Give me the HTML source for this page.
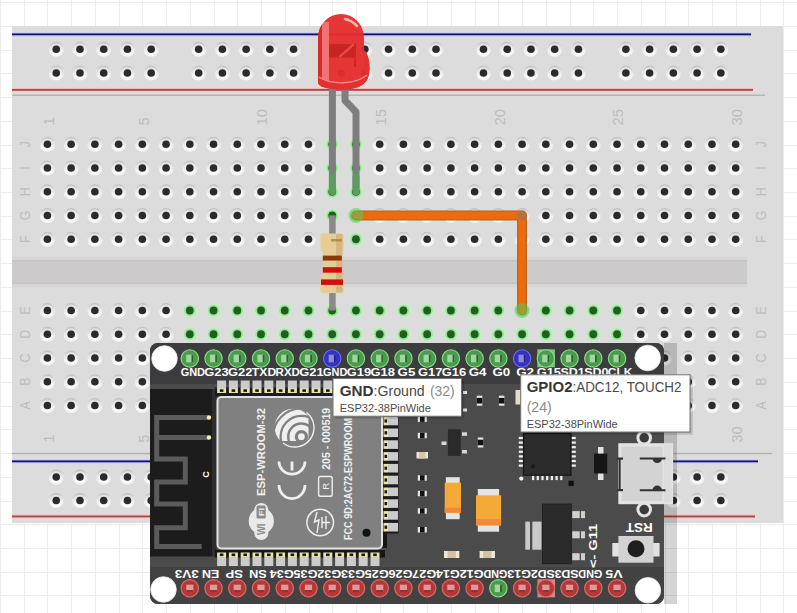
<!DOCTYPE html>
<html><head><meta charset="utf-8"><style>
html,body{margin:0;padding:0;background:#fff;overflow:hidden}
svg{display:block}
text{font-family:"Liberation Sans",sans-serif}
</style></head><body>
<svg width="797" height="613" viewBox="0 0 797 613">

<defs>
<linearGradient id="hg" x1="0" y1="0" x2="0" y2="1">
 <stop offset="0" stop-color="#c0c0c0"/>
 <stop offset="0.4" stop-color="#e2e2e2"/>
 <stop offset="0.75" stop-color="#f7f7f7"/>
 <stop offset="1" stop-color="#f4f4f4"/>
</linearGradient>
<linearGradient id="hg2" x1="0" y1="0" x2="0" y2="1">
 <stop offset="0" stop-color="#dedede"/>
 <stop offset="0.5" stop-color="#eeeeee"/>
 <stop offset="1" stop-color="#fdfdfd"/>
</linearGradient>
<g id="h"><circle r="7.5" fill="url(#hg)"/><circle r="6" fill="url(#hg2)"/><circle r="3.8" fill="#2b2b2b"/></g>
<g id="hgr"><circle r="7.3" fill="#c4eec4"/><circle r="5.7" fill="#9fe29f"/><circle r="3.9" fill="#1f601f"/></g>
<g id="pg"><circle r="8.7" fill="#4a9c4d" stroke="#8edc8e" stroke-width="1.1"/><rect x="-3.6" y="-3.8" width="7.2" height="7.6" fill="#9fd6a0"/><rect x="1.7" y="-3.8" width="1.9" height="7.6" fill="#2c642c"/></g>
<g id="pb"><circle r="8.7" fill="#3333c0" stroke="#6e6eff" stroke-width="1.1"/><rect x="-3.6" y="-3.8" width="7.2" height="7.6" fill="#8a8ae0"/><rect x="1.7" y="-3.8" width="1.9" height="7.6" fill="#20207e"/></g>
<g id="pr"><circle r="8.7" fill="#b73737" stroke="#dc6e6e" stroke-width="1.1"/><rect x="-3.6" y="-3.6" width="7.2" height="7.2" fill="#de9a9a"/><rect x="-3.6" y="1.8" width="7.2" height="1.8" fill="#8a2a2a"/></g>
</defs>
<rect width="797" height="613" fill="#fff"/>
<g stroke="#ececec" stroke-width="1"><line x1="0.5" y1="0" x2="0.5" y2="613"/><line x1="24.5" y1="0" x2="24.5" y2="613"/><line x1="47.5" y1="0" x2="47.5" y2="613"/><line x1="71.5" y1="0" x2="71.5" y2="613"/><line x1="95.5" y1="0" x2="95.5" y2="613"/><line x1="119.5" y1="0" x2="119.5" y2="613"/><line x1="142.5" y1="0" x2="142.5" y2="613"/><line x1="166.5" y1="0" x2="166.5" y2="613"/><line x1="190.5" y1="0" x2="190.5" y2="613"/><line x1="214.5" y1="0" x2="214.5" y2="613"/><line x1="237.5" y1="0" x2="237.5" y2="613"/><line x1="261.5" y1="0" x2="261.5" y2="613"/><line x1="285.5" y1="0" x2="285.5" y2="613"/><line x1="309.5" y1="0" x2="309.5" y2="613"/><line x1="332.5" y1="0" x2="332.5" y2="613"/><line x1="356.5" y1="0" x2="356.5" y2="613"/><line x1="380.5" y1="0" x2="380.5" y2="613"/><line x1="403.5" y1="0" x2="403.5" y2="613"/><line x1="427.5" y1="0" x2="427.5" y2="613"/><line x1="451.5" y1="0" x2="451.5" y2="613"/><line x1="475.5" y1="0" x2="475.5" y2="613"/><line x1="498.5" y1="0" x2="498.5" y2="613"/><line x1="522.5" y1="0" x2="522.5" y2="613"/><line x1="546.5" y1="0" x2="546.5" y2="613"/><line x1="570.5" y1="0" x2="570.5" y2="613"/><line x1="593.5" y1="0" x2="593.5" y2="613"/><line x1="617.5" y1="0" x2="617.5" y2="613"/><line x1="641.5" y1="0" x2="641.5" y2="613"/><line x1="665.5" y1="0" x2="665.5" y2="613"/><line x1="688.5" y1="0" x2="688.5" y2="613"/><line x1="712.5" y1="0" x2="712.5" y2="613"/><line x1="736.5" y1="0" x2="736.5" y2="613"/><line x1="760.5" y1="0" x2="760.5" y2="613"/><line x1="783.5" y1="0" x2="783.5" y2="613"/><line x1="0" y1="2.5" x2="797" y2="2.5"/><line x1="0" y1="26.5" x2="797" y2="26.5"/><line x1="0" y1="50.5" x2="797" y2="50.5"/><line x1="0" y1="73.5" x2="797" y2="73.5"/><line x1="0" y1="97.5" x2="797" y2="97.5"/><line x1="0" y1="121.5" x2="797" y2="121.5"/><line x1="0" y1="145.5" x2="797" y2="145.5"/><line x1="0" y1="168.5" x2="797" y2="168.5"/><line x1="0" y1="192.5" x2="797" y2="192.5"/><line x1="0" y1="216.5" x2="797" y2="216.5"/><line x1="0" y1="239.5" x2="797" y2="239.5"/><line x1="0" y1="263.5" x2="797" y2="263.5"/><line x1="0" y1="287.5" x2="797" y2="287.5"/><line x1="0" y1="311.5" x2="797" y2="311.5"/><line x1="0" y1="334.5" x2="797" y2="334.5"/><line x1="0" y1="358.5" x2="797" y2="358.5"/><line x1="0" y1="382.5" x2="797" y2="382.5"/><line x1="0" y1="406.5" x2="797" y2="406.5"/><line x1="0" y1="429.5" x2="797" y2="429.5"/><line x1="0" y1="453.5" x2="797" y2="453.5"/><line x1="0" y1="477.5" x2="797" y2="477.5"/><line x1="0" y1="501.5" x2="797" y2="501.5"/><line x1="0" y1="524.5" x2="797" y2="524.5"/><line x1="0" y1="548.5" x2="797" y2="548.5"/><line x1="0" y1="572.5" x2="797" y2="572.5"/><line x1="0" y1="595.5" x2="797" y2="595.5"/></g>
<rect x="12" y="26" width="771" height="497" fill="#dcdcdc"/>
<rect x="12" y="32" width="739" height="5" fill="#cfd1f7"/>
<rect x="12" y="33.4" width="739" height="1.9" fill="#151570"/>
<rect x="12" y="87.8" width="741" height="4" fill="#fcc6c6"/>
<rect x="12" y="88.9" width="741" height="1.9" fill="#a84a4a"/>
<rect x="12" y="94.6" width="753" height="1.3" fill="#b2aeac"/>
<rect x="12" y="256.5" width="735" height="31" fill="#d6d6d6"/>
<rect x="12" y="260" width="735" height="24" fill="#cdcaca"/>
<rect x="12" y="260" width="735" height="1.6" fill="#c5c3c3"/><rect x="12" y="282.4" width="735" height="1.6" fill="#c5c3c3"/>
<rect x="12" y="452.9" width="760" height="1.3" fill="#b2aeac"/>
<rect x="12" y="459" width="746" height="5" fill="#cfd1f7"/>
<rect x="12" y="460.4" width="746" height="1.9" fill="#151570"/>
<rect x="12" y="514.4" width="743" height="4" fill="#fcc6c6"/>
<rect x="12" y="515.5" width="743" height="1.9" fill="#a84a4a"/>
<g><use href="#h" x="56.25" y="49.3"/><use href="#h" x="56.25" y="73.0"/><use href="#h" x="56.25" y="477.0"/><use href="#h" x="56.25" y="500.5"/><use href="#h" x="79.98" y="49.3"/><use href="#h" x="79.98" y="73.0"/><use href="#h" x="79.98" y="477.0"/><use href="#h" x="79.98" y="500.5"/><use href="#h" x="103.72" y="49.3"/><use href="#h" x="103.72" y="73.0"/><use href="#h" x="103.72" y="477.0"/><use href="#h" x="103.72" y="500.5"/><use href="#h" x="127.45" y="49.3"/><use href="#h" x="127.45" y="73.0"/><use href="#h" x="127.45" y="477.0"/><use href="#h" x="127.45" y="500.5"/><use href="#h" x="151.19" y="49.3"/><use href="#h" x="151.19" y="73.0"/><use href="#h" x="151.19" y="477.0"/><use href="#h" x="151.19" y="500.5"/><use href="#h" x="198.66" y="49.3"/><use href="#h" x="198.66" y="73.0"/><use href="#h" x="198.66" y="477.0"/><use href="#h" x="198.66" y="500.5"/><use href="#h" x="222.39" y="49.3"/><use href="#h" x="222.39" y="73.0"/><use href="#h" x="222.39" y="477.0"/><use href="#h" x="222.39" y="500.5"/><use href="#h" x="246.13" y="49.3"/><use href="#h" x="246.13" y="73.0"/><use href="#h" x="246.13" y="477.0"/><use href="#h" x="246.13" y="500.5"/><use href="#h" x="269.87" y="49.3"/><use href="#h" x="269.87" y="73.0"/><use href="#h" x="269.87" y="477.0"/><use href="#h" x="269.87" y="500.5"/><use href="#h" x="293.60" y="49.3"/><use href="#h" x="293.60" y="73.0"/><use href="#h" x="293.60" y="477.0"/><use href="#h" x="293.60" y="500.5"/><use href="#h" x="341.07" y="49.3"/><use href="#h" x="341.07" y="73.0"/><use href="#h" x="341.07" y="477.0"/><use href="#h" x="341.07" y="500.5"/><use href="#h" x="364.81" y="49.3"/><use href="#h" x="364.81" y="73.0"/><use href="#h" x="364.81" y="477.0"/><use href="#h" x="364.81" y="500.5"/><use href="#h" x="388.54" y="49.3"/><use href="#h" x="388.54" y="73.0"/><use href="#h" x="388.54" y="477.0"/><use href="#h" x="388.54" y="500.5"/><use href="#h" x="412.27" y="49.3"/><use href="#h" x="412.27" y="73.0"/><use href="#h" x="412.27" y="477.0"/><use href="#h" x="412.27" y="500.5"/><use href="#h" x="436.01" y="49.3"/><use href="#h" x="436.01" y="73.0"/><use href="#h" x="436.01" y="477.0"/><use href="#h" x="436.01" y="500.5"/><use href="#h" x="483.48" y="49.3"/><use href="#h" x="483.48" y="73.0"/><use href="#h" x="483.48" y="477.0"/><use href="#h" x="483.48" y="500.5"/><use href="#h" x="507.21" y="49.3"/><use href="#h" x="507.21" y="73.0"/><use href="#h" x="507.21" y="477.0"/><use href="#h" x="507.21" y="500.5"/><use href="#h" x="530.95" y="49.3"/><use href="#h" x="530.95" y="73.0"/><use href="#h" x="530.95" y="477.0"/><use href="#h" x="530.95" y="500.5"/><use href="#h" x="554.68" y="49.3"/><use href="#h" x="554.68" y="73.0"/><use href="#h" x="554.68" y="477.0"/><use href="#h" x="554.68" y="500.5"/><use href="#h" x="578.42" y="49.3"/><use href="#h" x="578.42" y="73.0"/><use href="#h" x="578.42" y="477.0"/><use href="#h" x="578.42" y="500.5"/><use href="#h" x="625.89" y="49.3"/><use href="#h" x="625.89" y="73.0"/><use href="#h" x="625.89" y="477.0"/><use href="#h" x="625.89" y="500.5"/><use href="#h" x="649.62" y="49.3"/><use href="#h" x="649.62" y="73.0"/><use href="#h" x="649.62" y="477.0"/><use href="#h" x="649.62" y="500.5"/><use href="#h" x="673.36" y="49.3"/><use href="#h" x="673.36" y="73.0"/><use href="#h" x="673.36" y="477.0"/><use href="#h" x="673.36" y="500.5"/><use href="#h" x="697.10" y="49.3"/><use href="#h" x="697.10" y="73.0"/><use href="#h" x="697.10" y="477.0"/><use href="#h" x="697.10" y="500.5"/><use href="#h" x="720.83" y="49.3"/><use href="#h" x="720.83" y="73.0"/><use href="#h" x="720.83" y="477.0"/><use href="#h" x="720.83" y="500.5"/><use href="#h" x="47.40" y="144.30"/><use href="#h" x="47.40" y="168.04"/><use href="#h" x="47.40" y="191.77"/><use href="#h" x="47.40" y="215.50"/><use href="#h" x="47.40" y="239.24"/><use href="#h" x="47.40" y="310.50"/><use href="#h" x="47.40" y="334.24"/><use href="#h" x="47.40" y="357.97"/><use href="#h" x="47.40" y="381.70"/><use href="#h" x="47.40" y="405.44"/><use href="#h" x="71.13" y="144.30"/><use href="#h" x="71.13" y="168.04"/><use href="#h" x="71.13" y="191.77"/><use href="#h" x="71.13" y="215.50"/><use href="#h" x="71.13" y="239.24"/><use href="#h" x="71.13" y="310.50"/><use href="#h" x="71.13" y="334.24"/><use href="#h" x="71.13" y="357.97"/><use href="#h" x="71.13" y="381.70"/><use href="#h" x="71.13" y="405.44"/><use href="#h" x="94.87" y="144.30"/><use href="#h" x="94.87" y="168.04"/><use href="#h" x="94.87" y="191.77"/><use href="#h" x="94.87" y="215.50"/><use href="#h" x="94.87" y="239.24"/><use href="#h" x="94.87" y="310.50"/><use href="#h" x="94.87" y="334.24"/><use href="#h" x="94.87" y="357.97"/><use href="#h" x="94.87" y="381.70"/><use href="#h" x="94.87" y="405.44"/><use href="#h" x="118.60" y="144.30"/><use href="#h" x="118.60" y="168.04"/><use href="#h" x="118.60" y="191.77"/><use href="#h" x="118.60" y="215.50"/><use href="#h" x="118.60" y="239.24"/><use href="#h" x="118.60" y="310.50"/><use href="#h" x="118.60" y="334.24"/><use href="#h" x="118.60" y="357.97"/><use href="#h" x="118.60" y="381.70"/><use href="#h" x="118.60" y="405.44"/><use href="#h" x="142.34" y="144.30"/><use href="#h" x="142.34" y="168.04"/><use href="#h" x="142.34" y="191.77"/><use href="#h" x="142.34" y="215.50"/><use href="#h" x="142.34" y="239.24"/><use href="#h" x="142.34" y="310.50"/><use href="#h" x="142.34" y="334.24"/><use href="#h" x="142.34" y="357.97"/><use href="#h" x="142.34" y="381.70"/><use href="#h" x="142.34" y="405.44"/><use href="#h" x="166.07" y="144.30"/><use href="#h" x="166.07" y="168.04"/><use href="#h" x="166.07" y="191.77"/><use href="#h" x="166.07" y="215.50"/><use href="#h" x="166.07" y="239.24"/><use href="#h" x="166.07" y="310.50"/><use href="#h" x="166.07" y="334.24"/><use href="#h" x="166.07" y="357.97"/><use href="#h" x="166.07" y="381.70"/><use href="#h" x="166.07" y="405.44"/><use href="#h" x="189.81" y="144.30"/><use href="#h" x="189.81" y="168.04"/><use href="#h" x="189.81" y="191.77"/><use href="#h" x="189.81" y="215.50"/><use href="#h" x="189.81" y="239.24"/><use href="#hgr" x="189.81" y="310.50"/><use href="#hgr" x="189.81" y="334.24"/><use href="#h" x="189.81" y="357.97"/><use href="#h" x="189.81" y="381.70"/><use href="#h" x="189.81" y="405.44"/><use href="#h" x="213.54" y="144.30"/><use href="#h" x="213.54" y="168.04"/><use href="#h" x="213.54" y="191.77"/><use href="#h" x="213.54" y="215.50"/><use href="#h" x="213.54" y="239.24"/><use href="#hgr" x="213.54" y="310.50"/><use href="#hgr" x="213.54" y="334.24"/><use href="#h" x="213.54" y="357.97"/><use href="#h" x="213.54" y="381.70"/><use href="#h" x="213.54" y="405.44"/><use href="#h" x="237.28" y="144.30"/><use href="#h" x="237.28" y="168.04"/><use href="#h" x="237.28" y="191.77"/><use href="#h" x="237.28" y="215.50"/><use href="#h" x="237.28" y="239.24"/><use href="#hgr" x="237.28" y="310.50"/><use href="#hgr" x="237.28" y="334.24"/><use href="#h" x="237.28" y="357.97"/><use href="#h" x="237.28" y="381.70"/><use href="#h" x="237.28" y="405.44"/><use href="#h" x="261.01" y="144.30"/><use href="#h" x="261.01" y="168.04"/><use href="#h" x="261.01" y="191.77"/><use href="#h" x="261.01" y="215.50"/><use href="#h" x="261.01" y="239.24"/><use href="#hgr" x="261.01" y="310.50"/><use href="#hgr" x="261.01" y="334.24"/><use href="#h" x="261.01" y="357.97"/><use href="#h" x="261.01" y="381.70"/><use href="#h" x="261.01" y="405.44"/><use href="#h" x="284.75" y="144.30"/><use href="#h" x="284.75" y="168.04"/><use href="#h" x="284.75" y="191.77"/><use href="#h" x="284.75" y="215.50"/><use href="#h" x="284.75" y="239.24"/><use href="#hgr" x="284.75" y="310.50"/><use href="#hgr" x="284.75" y="334.24"/><use href="#h" x="284.75" y="357.97"/><use href="#h" x="284.75" y="381.70"/><use href="#h" x="284.75" y="405.44"/><use href="#h" x="308.48" y="144.30"/><use href="#h" x="308.48" y="168.04"/><use href="#h" x="308.48" y="191.77"/><use href="#h" x="308.48" y="215.50"/><use href="#h" x="308.48" y="239.24"/><use href="#hgr" x="308.48" y="310.50"/><use href="#hgr" x="308.48" y="334.24"/><use href="#h" x="308.48" y="357.97"/><use href="#h" x="308.48" y="381.70"/><use href="#h" x="308.48" y="405.44"/><use href="#hgr" x="332.22" y="144.30"/><use href="#hgr" x="332.22" y="168.04"/><use href="#hgr" x="332.22" y="191.77"/><use href="#hgr" x="332.22" y="215.50"/><use href="#hgr" x="332.22" y="239.24"/><use href="#hgr" x="332.22" y="310.50"/><use href="#hgr" x="332.22" y="334.24"/><use href="#h" x="332.22" y="357.97"/><use href="#h" x="332.22" y="381.70"/><use href="#h" x="332.22" y="405.44"/><use href="#hgr" x="355.95" y="144.30"/><use href="#hgr" x="355.95" y="168.04"/><use href="#hgr" x="355.95" y="191.77"/><use href="#hgr" x="355.95" y="215.50"/><use href="#hgr" x="355.95" y="239.24"/><use href="#hgr" x="355.95" y="310.50"/><use href="#hgr" x="355.95" y="334.24"/><use href="#h" x="355.95" y="357.97"/><use href="#h" x="355.95" y="381.70"/><use href="#h" x="355.95" y="405.44"/><use href="#h" x="379.69" y="144.30"/><use href="#h" x="379.69" y="168.04"/><use href="#h" x="379.69" y="191.77"/><use href="#h" x="379.69" y="215.50"/><use href="#h" x="379.69" y="239.24"/><use href="#hgr" x="379.69" y="310.50"/><use href="#hgr" x="379.69" y="334.24"/><use href="#h" x="379.69" y="357.97"/><use href="#h" x="379.69" y="381.70"/><use href="#h" x="379.69" y="405.44"/><use href="#h" x="403.42" y="144.30"/><use href="#h" x="403.42" y="168.04"/><use href="#h" x="403.42" y="191.77"/><use href="#h" x="403.42" y="215.50"/><use href="#h" x="403.42" y="239.24"/><use href="#hgr" x="403.42" y="310.50"/><use href="#hgr" x="403.42" y="334.24"/><use href="#h" x="403.42" y="357.97"/><use href="#h" x="403.42" y="381.70"/><use href="#h" x="403.42" y="405.44"/><use href="#h" x="427.16" y="144.30"/><use href="#h" x="427.16" y="168.04"/><use href="#h" x="427.16" y="191.77"/><use href="#h" x="427.16" y="215.50"/><use href="#h" x="427.16" y="239.24"/><use href="#hgr" x="427.16" y="310.50"/><use href="#hgr" x="427.16" y="334.24"/><use href="#h" x="427.16" y="357.97"/><use href="#h" x="427.16" y="381.70"/><use href="#h" x="427.16" y="405.44"/><use href="#h" x="450.89" y="144.30"/><use href="#h" x="450.89" y="168.04"/><use href="#h" x="450.89" y="191.77"/><use href="#h" x="450.89" y="215.50"/><use href="#h" x="450.89" y="239.24"/><use href="#hgr" x="450.89" y="310.50"/><use href="#hgr" x="450.89" y="334.24"/><use href="#h" x="450.89" y="357.97"/><use href="#h" x="450.89" y="381.70"/><use href="#h" x="450.89" y="405.44"/><use href="#h" x="474.63" y="144.30"/><use href="#h" x="474.63" y="168.04"/><use href="#h" x="474.63" y="191.77"/><use href="#h" x="474.63" y="215.50"/><use href="#h" x="474.63" y="239.24"/><use href="#hgr" x="474.63" y="310.50"/><use href="#hgr" x="474.63" y="334.24"/><use href="#h" x="474.63" y="357.97"/><use href="#h" x="474.63" y="381.70"/><use href="#h" x="474.63" y="405.44"/><use href="#h" x="498.36" y="144.30"/><use href="#h" x="498.36" y="168.04"/><use href="#h" x="498.36" y="191.77"/><use href="#h" x="498.36" y="215.50"/><use href="#h" x="498.36" y="239.24"/><use href="#hgr" x="498.36" y="310.50"/><use href="#hgr" x="498.36" y="334.24"/><use href="#h" x="498.36" y="357.97"/><use href="#h" x="498.36" y="381.70"/><use href="#h" x="498.36" y="405.44"/><use href="#h" x="522.10" y="144.30"/><use href="#h" x="522.10" y="168.04"/><use href="#h" x="522.10" y="191.77"/><use href="#h" x="522.10" y="215.50"/><use href="#h" x="522.10" y="239.24"/><use href="#hgr" x="522.10" y="310.50"/><use href="#hgr" x="522.10" y="334.24"/><use href="#h" x="522.10" y="357.97"/><use href="#h" x="522.10" y="381.70"/><use href="#h" x="522.10" y="405.44"/><use href="#h" x="545.84" y="144.30"/><use href="#h" x="545.84" y="168.04"/><use href="#h" x="545.84" y="191.77"/><use href="#h" x="545.84" y="215.50"/><use href="#h" x="545.84" y="239.24"/><use href="#hgr" x="545.84" y="310.50"/><use href="#hgr" x="545.84" y="334.24"/><use href="#h" x="545.84" y="357.97"/><use href="#h" x="545.84" y="381.70"/><use href="#h" x="545.84" y="405.44"/><use href="#h" x="569.57" y="144.30"/><use href="#h" x="569.57" y="168.04"/><use href="#h" x="569.57" y="191.77"/><use href="#h" x="569.57" y="215.50"/><use href="#h" x="569.57" y="239.24"/><use href="#hgr" x="569.57" y="310.50"/><use href="#hgr" x="569.57" y="334.24"/><use href="#h" x="569.57" y="357.97"/><use href="#h" x="569.57" y="381.70"/><use href="#h" x="569.57" y="405.44"/><use href="#h" x="593.30" y="144.30"/><use href="#h" x="593.30" y="168.04"/><use href="#h" x="593.30" y="191.77"/><use href="#h" x="593.30" y="215.50"/><use href="#h" x="593.30" y="239.24"/><use href="#hgr" x="593.30" y="310.50"/><use href="#hgr" x="593.30" y="334.24"/><use href="#h" x="593.30" y="357.97"/><use href="#h" x="593.30" y="381.70"/><use href="#h" x="593.30" y="405.44"/><use href="#h" x="617.04" y="144.30"/><use href="#h" x="617.04" y="168.04"/><use href="#h" x="617.04" y="191.77"/><use href="#h" x="617.04" y="215.50"/><use href="#h" x="617.04" y="239.24"/><use href="#hgr" x="617.04" y="310.50"/><use href="#hgr" x="617.04" y="334.24"/><use href="#h" x="617.04" y="357.97"/><use href="#h" x="617.04" y="381.70"/><use href="#h" x="617.04" y="405.44"/><use href="#h" x="640.77" y="144.30"/><use href="#h" x="640.77" y="168.04"/><use href="#h" x="640.77" y="191.77"/><use href="#h" x="640.77" y="215.50"/><use href="#h" x="640.77" y="239.24"/><use href="#h" x="640.77" y="310.50"/><use href="#h" x="640.77" y="334.24"/><use href="#h" x="640.77" y="357.97"/><use href="#h" x="640.77" y="381.70"/><use href="#h" x="640.77" y="405.44"/><use href="#h" x="664.51" y="144.30"/><use href="#h" x="664.51" y="168.04"/><use href="#h" x="664.51" y="191.77"/><use href="#h" x="664.51" y="215.50"/><use href="#h" x="664.51" y="239.24"/><use href="#h" x="664.51" y="310.50"/><use href="#h" x="664.51" y="334.24"/><use href="#h" x="664.51" y="357.97"/><use href="#h" x="664.51" y="381.70"/><use href="#h" x="664.51" y="405.44"/><use href="#h" x="688.25" y="144.30"/><use href="#h" x="688.25" y="168.04"/><use href="#h" x="688.25" y="191.77"/><use href="#h" x="688.25" y="215.50"/><use href="#h" x="688.25" y="239.24"/><use href="#h" x="688.25" y="310.50"/><use href="#h" x="688.25" y="334.24"/><use href="#h" x="688.25" y="357.97"/><use href="#h" x="688.25" y="381.70"/><use href="#h" x="688.25" y="405.44"/><use href="#h" x="711.98" y="144.30"/><use href="#h" x="711.98" y="168.04"/><use href="#h" x="711.98" y="191.77"/><use href="#h" x="711.98" y="215.50"/><use href="#h" x="711.98" y="239.24"/><use href="#h" x="711.98" y="310.50"/><use href="#h" x="711.98" y="334.24"/><use href="#h" x="711.98" y="357.97"/><use href="#h" x="711.98" y="381.70"/><use href="#h" x="711.98" y="405.44"/><use href="#h" x="735.71" y="144.30"/><use href="#h" x="735.71" y="168.04"/><use href="#h" x="735.71" y="191.77"/><use href="#h" x="735.71" y="215.50"/><use href="#h" x="735.71" y="239.24"/><use href="#h" x="735.71" y="310.50"/><use href="#h" x="735.71" y="334.24"/><use href="#h" x="735.71" y="357.97"/><use href="#h" x="735.71" y="381.70"/><use href="#h" x="735.71" y="405.44"/></g>
<g font-size="15.5" fill="#bcbcbc"><text transform="translate(53.80,125.5) rotate(-90) scale(0.95,1)">1</text><text transform="translate(53.80,442.8) rotate(-90) scale(0.95,1)">1</text><text transform="translate(148.74,125.5) rotate(-90) scale(0.95,1)">5</text><text transform="translate(148.74,442.8) rotate(-90) scale(0.95,1)">5</text><text transform="translate(267.41,125.5) rotate(-90) scale(0.95,1)">10</text><text transform="translate(267.41,442.8) rotate(-90) scale(0.95,1)">10</text><text transform="translate(386.09,125.5) rotate(-90) scale(0.95,1)">15</text><text transform="translate(386.09,442.8) rotate(-90) scale(0.95,1)">15</text><text transform="translate(504.76,125.5) rotate(-90) scale(0.95,1)">20</text><text transform="translate(504.76,442.8) rotate(-90) scale(0.95,1)">20</text><text transform="translate(623.44,125.5) rotate(-90) scale(0.95,1)">25</text><text transform="translate(623.44,442.8) rotate(-90) scale(0.95,1)">25</text><text transform="translate(742.11,125.5) rotate(-90) scale(0.95,1)">30</text><text transform="translate(742.11,442.8) rotate(-90) scale(0.95,1)">30</text><text transform="translate(30.3,144.30) rotate(-90) scale(0.8,1)" text-anchor="middle">J</text><text transform="translate(765.6,144.30) rotate(-90) scale(0.8,1)" text-anchor="middle">J</text><text transform="translate(30.3,168.04) rotate(-90) scale(0.8,1)" text-anchor="middle">I</text><text transform="translate(765.6,168.04) rotate(-90) scale(0.8,1)" text-anchor="middle">I</text><text transform="translate(30.3,191.77) rotate(-90) scale(0.8,1)" text-anchor="middle">H</text><text transform="translate(765.6,191.77) rotate(-90) scale(0.8,1)" text-anchor="middle">H</text><text transform="translate(30.3,215.50) rotate(-90) scale(0.8,1)" text-anchor="middle">G</text><text transform="translate(765.6,215.50) rotate(-90) scale(0.8,1)" text-anchor="middle">G</text><text transform="translate(30.3,239.24) rotate(-90) scale(0.8,1)" text-anchor="middle">F</text><text transform="translate(765.6,239.24) rotate(-90) scale(0.8,1)" text-anchor="middle">F</text><text transform="translate(30.3,310.50) rotate(-90) scale(0.8,1)" text-anchor="middle">E</text><text transform="translate(765.6,310.50) rotate(-90) scale(0.8,1)" text-anchor="middle">E</text><text transform="translate(30.3,334.24) rotate(-90) scale(0.8,1)" text-anchor="middle">D</text><text transform="translate(765.6,334.24) rotate(-90) scale(0.8,1)" text-anchor="middle">D</text><text transform="translate(30.3,357.97) rotate(-90) scale(0.8,1)" text-anchor="middle">C</text><text transform="translate(765.6,357.97) rotate(-90) scale(0.8,1)" text-anchor="middle">C</text><text transform="translate(30.3,381.70) rotate(-90) scale(0.8,1)" text-anchor="middle">B</text><text transform="translate(765.6,381.70) rotate(-90) scale(0.8,1)" text-anchor="middle">B</text><text transform="translate(30.3,405.44) rotate(-90) scale(0.8,1)" text-anchor="middle">A</text><text transform="translate(765.6,405.44) rotate(-90) scale(0.8,1)" text-anchor="middle">A</text></g>
<g fill="none" stroke="#7e7e7e" stroke-width="7" stroke-linejoin="round">
<path d="M332.4,86 V188"/>
<path d="M345,86 V100.5 L356,112 V188"/>
</g>
<g fill="none" stroke="#5f9c5f" stroke-width="7" stroke-linecap="round">
<path d="M332.4,177 V191.7"/><path d="M356,177 V191.7"/>
</g>
<g fill="none" stroke="#8a8a8a" stroke-width="6.5">
<path d="M332.4,215.4 V236"/>
<path d="M332.4,290 V310.5"/>
</g>
<clipPath id="ledc"><path d="M318,82 L318,38 A23,24 0 0 1 364,38 L364,50 C370,56 371,70 368,78 C364,88 350,90 340,89.5 C328,89 318,87 318,82 Z"/></clipPath>
<g clip-path="url(#ledc)">
<rect x="310" y="10" width="65" height="85" fill="#e62e2e" fill-opacity="0.96"/>
<rect x="317" y="10" width="5" height="85" fill="#d42c2c"/>
<rect x="322" y="22" width="7" height="62" fill="#f07272"/>
<rect x="329" y="44" width="25" height="13.6" fill="#c92424"/>
<path d="M339.3,57.2 L355,43.2" stroke="#e84848" stroke-width="2.4"/>
<path d="M355,43 V67" stroke="#cc2626" stroke-width="2"/>
<path d="M364,48 C370,56 371,70 368,78 L364,80 Z" fill="#e23232"/>
<path d="M318,76 C330,86 356,86 368,76 L372,92 L314,92 Z" fill="#e23030"/>
<path d="M319,77 C331,85 355,85 367,75" fill="none" stroke="#f48a8a" stroke-width="1.3"/>
</g>
<path d="M345,19 Q352,20.5 357,26" fill="none" stroke="#fbb0b0" stroke-width="2.6" stroke-linecap="round"/>
<path d="M320.4,236 Q320.4,233.6 323,233.6 L341,233.6 Q343.6,233.6 343.6,236 L343.6,247 Q343.6,250 341.8,252 L341.8,275 Q343.6,277 343.6,280 L343.6,290.5 Q343.6,293 341,293 L323,293 Q320.4,293 320.4,290.5 L320.4,280 Q320.4,277 322.8,275 L322.8,252 Q320.4,250 320.4,247 Z" fill="#e6cd96"/>
<rect x="336" y="234" width="6.5" height="58.5" fill="#c9a86a" fill-opacity="0.55"/>
<rect x="331" y="239" width="11" height="2.5" fill="#9a7a3a" fill-opacity="0.7"/>
<rect x="322.8" y="255.6" width="19" height="5" fill="#8b3a0a"/>
<rect x="322.8" y="267.2" width="19" height="5.5" fill="#d01010"/>
<rect x="321" y="279.4" width="22" height="5.5" fill="#d01010"/>
<path d="M356,215.5 H522 V310.5" fill="none" stroke="#b8652a" stroke-width="10" stroke-linejoin="round" stroke-linecap="round"/>
<path d="M356,215.5 H522 V310.5" fill="none" stroke="#ee6a0a" stroke-width="7.5" stroke-linejoin="round" stroke-linecap="round"/>
<circle cx="522" cy="215.5" r="5" fill="#b8703f"/>
<circle cx="356" cy="215.5" r="7.5" fill="#55c855" fill-opacity="0.55"/>
<circle cx="522" cy="310.5" r="7.5" fill="#55c855" fill-opacity="0.55"/>
<rect x="664" y="343" width="13" height="261" fill="#000" fill-opacity="0.17"/>
<clipPath id="bc"><rect x="150" y="343" width="514" height="261" rx="8"/></clipPath>
<g clip-path="url(#bc)"><rect x="150" y="343" width="514" height="261" fill="#4b4b4b"/><rect x="150" y="343" width="514" height="41" fill="#3c3b3d"/><rect x="150" y="567" width="514" height="37" fill="#424242"/></g>
<rect x="150" y="389" width="62" height="167.5" fill="#1c1c1c"/>
<rect x="212" y="389" width="4.5" height="167.5" fill="#2e2e2e"/>
<path d="M208.5,417.5 H156.7 V458.9 H185.3 V482 H156.7 V504 H185.3 V527.8 H156.7 V546.5 H201.7 M156.7,437.5 H208.5" fill="none" stroke="#5b5b5b" stroke-width="5"/>
<circle cx="209" cy="417.5" r="2.2" fill="#f2f0c0"/><circle cx="209" cy="437.5" r="2.2" fill="#f2f0c0"/>
<text transform="translate(206,474.5) rotate(-90)" text-anchor="middle" dominant-baseline="central" font-size="9" font-weight="bold" fill="#fff">C</text>
<rect x="215" y="387.5" width="170" height="9" fill="#1a1a22"/>
<rect x="215" y="550" width="170" height="7.5" fill="#161616"/>
<rect x="382" y="398" width="5" height="150" fill="#161616"/>
<rect x="382" y="405" width="16.5" height="128.5" fill="#1c1c1c"/>
<rect x="217.1" y="380.5" width="9" height="8.5" fill="#cbcbcb"/><rect x="217.1" y="388.5" width="9" height="4.5" fill="#ebe5a6"/><rect x="219.8" y="389.3" width="3.6" height="2.6" fill="#1a1a1a"/><rect x="217.1" y="557" width="9" height="9" fill="#cbcbcb"/><rect x="217.1" y="552.5" width="9" height="4.5" fill="#ebe5a6"/><rect x="219.8" y="553.5" width="3.6" height="2.6" fill="#1a1a1a"/><rect x="228.9" y="380.5" width="9" height="8.5" fill="#cbcbcb"/><rect x="228.9" y="388.5" width="9" height="4.5" fill="#ebe5a6"/><rect x="231.6" y="389.3" width="3.6" height="2.6" fill="#1a1a1a"/><rect x="228.9" y="557" width="9" height="9" fill="#cbcbcb"/><rect x="228.9" y="552.5" width="9" height="4.5" fill="#ebe5a6"/><rect x="231.6" y="553.5" width="3.6" height="2.6" fill="#1a1a1a"/><rect x="240.7" y="380.5" width="9" height="8.5" fill="#cbcbcb"/><rect x="240.7" y="388.5" width="9" height="4.5" fill="#ebe5a6"/><rect x="243.4" y="389.3" width="3.6" height="2.6" fill="#1a1a1a"/><rect x="240.7" y="557" width="9" height="9" fill="#cbcbcb"/><rect x="240.7" y="552.5" width="9" height="4.5" fill="#ebe5a6"/><rect x="243.4" y="553.5" width="3.6" height="2.6" fill="#1a1a1a"/><rect x="252.5" y="380.5" width="9" height="8.5" fill="#cbcbcb"/><rect x="252.5" y="388.5" width="9" height="4.5" fill="#ebe5a6"/><rect x="255.2" y="389.3" width="3.6" height="2.6" fill="#1a1a1a"/><rect x="252.5" y="557" width="9" height="9" fill="#cbcbcb"/><rect x="252.5" y="552.5" width="9" height="4.5" fill="#ebe5a6"/><rect x="255.2" y="553.5" width="3.6" height="2.6" fill="#1a1a1a"/><rect x="264.3" y="380.5" width="9" height="8.5" fill="#cbcbcb"/><rect x="264.3" y="388.5" width="9" height="4.5" fill="#ebe5a6"/><rect x="267.0" y="389.3" width="3.6" height="2.6" fill="#1a1a1a"/><rect x="264.3" y="557" width="9" height="9" fill="#cbcbcb"/><rect x="264.3" y="552.5" width="9" height="4.5" fill="#ebe5a6"/><rect x="267.0" y="553.5" width="3.6" height="2.6" fill="#1a1a1a"/><rect x="276.1" y="380.5" width="9" height="8.5" fill="#cbcbcb"/><rect x="276.1" y="388.5" width="9" height="4.5" fill="#ebe5a6"/><rect x="278.8" y="389.3" width="3.6" height="2.6" fill="#1a1a1a"/><rect x="276.1" y="557" width="9" height="9" fill="#cbcbcb"/><rect x="276.1" y="552.5" width="9" height="4.5" fill="#ebe5a6"/><rect x="278.8" y="553.5" width="3.6" height="2.6" fill="#1a1a1a"/><rect x="287.9" y="380.5" width="9" height="8.5" fill="#cbcbcb"/><rect x="287.9" y="388.5" width="9" height="4.5" fill="#ebe5a6"/><rect x="290.6" y="389.3" width="3.6" height="2.6" fill="#1a1a1a"/><rect x="287.9" y="557" width="9" height="9" fill="#cbcbcb"/><rect x="287.9" y="552.5" width="9" height="4.5" fill="#ebe5a6"/><rect x="290.6" y="553.5" width="3.6" height="2.6" fill="#1a1a1a"/><rect x="299.7" y="380.5" width="9" height="8.5" fill="#cbcbcb"/><rect x="299.7" y="388.5" width="9" height="4.5" fill="#ebe5a6"/><rect x="302.4" y="389.3" width="3.6" height="2.6" fill="#1a1a1a"/><rect x="299.7" y="557" width="9" height="9" fill="#cbcbcb"/><rect x="299.7" y="552.5" width="9" height="4.5" fill="#ebe5a6"/><rect x="302.4" y="553.5" width="3.6" height="2.6" fill="#1a1a1a"/><rect x="311.5" y="380.5" width="9" height="8.5" fill="#cbcbcb"/><rect x="311.5" y="388.5" width="9" height="4.5" fill="#ebe5a6"/><rect x="314.2" y="389.3" width="3.6" height="2.6" fill="#1a1a1a"/><rect x="311.5" y="557" width="9" height="9" fill="#cbcbcb"/><rect x="311.5" y="552.5" width="9" height="4.5" fill="#ebe5a6"/><rect x="314.2" y="553.5" width="3.6" height="2.6" fill="#1a1a1a"/><rect x="323.3" y="380.5" width="9" height="8.5" fill="#cbcbcb"/><rect x="323.3" y="388.5" width="9" height="4.5" fill="#ebe5a6"/><rect x="326.0" y="389.3" width="3.6" height="2.6" fill="#1a1a1a"/><rect x="323.3" y="557" width="9" height="9" fill="#cbcbcb"/><rect x="323.3" y="552.5" width="9" height="4.5" fill="#ebe5a6"/><rect x="326.0" y="553.5" width="3.6" height="2.6" fill="#1a1a1a"/><rect x="335.1" y="380.5" width="9" height="8.5" fill="#cbcbcb"/><rect x="335.1" y="388.5" width="9" height="4.5" fill="#ebe5a6"/><rect x="337.8" y="389.3" width="3.6" height="2.6" fill="#1a1a1a"/><rect x="335.1" y="557" width="9" height="9" fill="#cbcbcb"/><rect x="335.1" y="552.5" width="9" height="4.5" fill="#ebe5a6"/><rect x="337.8" y="553.5" width="3.6" height="2.6" fill="#1a1a1a"/><rect x="346.9" y="380.5" width="9" height="8.5" fill="#cbcbcb"/><rect x="346.9" y="388.5" width="9" height="4.5" fill="#ebe5a6"/><rect x="349.6" y="389.3" width="3.6" height="2.6" fill="#1a1a1a"/><rect x="346.9" y="557" width="9" height="9" fill="#cbcbcb"/><rect x="346.9" y="552.5" width="9" height="4.5" fill="#ebe5a6"/><rect x="349.6" y="553.5" width="3.6" height="2.6" fill="#1a1a1a"/><rect x="358.7" y="380.5" width="9" height="8.5" fill="#cbcbcb"/><rect x="358.7" y="388.5" width="9" height="4.5" fill="#ebe5a6"/><rect x="361.4" y="389.3" width="3.6" height="2.6" fill="#1a1a1a"/><rect x="358.7" y="557" width="9" height="9" fill="#cbcbcb"/><rect x="358.7" y="552.5" width="9" height="4.5" fill="#ebe5a6"/><rect x="361.4" y="553.5" width="3.6" height="2.6" fill="#1a1a1a"/><rect x="370.5" y="380.5" width="9" height="8.5" fill="#cbcbcb"/><rect x="370.5" y="388.5" width="9" height="4.5" fill="#ebe5a6"/><rect x="373.2" y="389.3" width="3.6" height="2.6" fill="#1a1a1a"/><rect x="370.5" y="557" width="9" height="9" fill="#cbcbcb"/><rect x="370.5" y="552.5" width="9" height="4.5" fill="#ebe5a6"/><rect x="373.2" y="553.5" width="3.6" height="2.6" fill="#1a1a1a"/><rect x="388" y="416.7" width="10" height="8.6" fill="#cbcbcb"/><rect x="383.5" y="416.7" width="4.5" height="8.6" fill="#ebe5a6"/><rect x="384.5" y="419.4" width="2.6" height="3.2" fill="#1a1a1a"/><rect x="388" y="428.5" width="10" height="8.6" fill="#cbcbcb"/><rect x="383.5" y="428.5" width="4.5" height="8.6" fill="#ebe5a6"/><rect x="384.5" y="431.2" width="2.6" height="3.2" fill="#1a1a1a"/><rect x="388" y="440.3" width="10" height="8.6" fill="#cbcbcb"/><rect x="383.5" y="440.3" width="4.5" height="8.6" fill="#ebe5a6"/><rect x="384.5" y="443.0" width="2.6" height="3.2" fill="#1a1a1a"/><rect x="388" y="452.1" width="10" height="8.6" fill="#cbcbcb"/><rect x="383.5" y="452.1" width="4.5" height="8.6" fill="#ebe5a6"/><rect x="384.5" y="454.8" width="2.6" height="3.2" fill="#1a1a1a"/><rect x="388" y="463.9" width="10" height="8.6" fill="#cbcbcb"/><rect x="383.5" y="463.9" width="4.5" height="8.6" fill="#ebe5a6"/><rect x="384.5" y="466.6" width="2.6" height="3.2" fill="#1a1a1a"/><rect x="388" y="475.7" width="10" height="8.6" fill="#cbcbcb"/><rect x="383.5" y="475.7" width="4.5" height="8.6" fill="#ebe5a6"/><rect x="384.5" y="478.4" width="2.6" height="3.2" fill="#1a1a1a"/><rect x="388" y="487.5" width="10" height="8.6" fill="#cbcbcb"/><rect x="383.5" y="487.5" width="4.5" height="8.6" fill="#ebe5a6"/><rect x="384.5" y="490.2" width="2.6" height="3.2" fill="#1a1a1a"/><rect x="388" y="499.3" width="10" height="8.6" fill="#cbcbcb"/><rect x="383.5" y="499.3" width="4.5" height="8.6" fill="#ebe5a6"/><rect x="384.5" y="502.0" width="2.6" height="3.2" fill="#1a1a1a"/><rect x="388" y="511.1" width="10" height="8.6" fill="#cbcbcb"/><rect x="383.5" y="511.1" width="4.5" height="8.6" fill="#ebe5a6"/><rect x="384.5" y="513.8" width="2.6" height="3.2" fill="#1a1a1a"/><rect x="388" y="522.9" width="10" height="8.6" fill="#cbcbcb"/><rect x="383.5" y="522.9" width="4.5" height="8.6" fill="#ebe5a6"/><rect x="384.5" y="525.6" width="2.6" height="3.2" fill="#1a1a1a"/>
<rect x="217.5" y="397" width="164.5" height="151.5" rx="4" fill="#808080" stroke="#e2e2e2" stroke-width="2"/>
<g fill="#f0f0f0" font-weight="bold">
<text transform="translate(265.3,452) rotate(-90)" text-anchor="middle" font-size="11" textLength="88" lengthAdjust="spacingAndGlyphs">ESP-WROOM-32</text>
<text transform="translate(330.4,438.8) rotate(-90)" text-anchor="middle" font-size="11" textLength="62" lengthAdjust="spacingAndGlyphs">205 - 000519</text>
<text transform="translate(351.6,479) rotate(-90)" text-anchor="middle" font-size="10" textLength="122" lengthAdjust="spacingAndGlyphs">FCC 9D:2AC72-ESPWROOM</text>
</g>
<circle cx="366.5" cy="532.7" r="4" fill="#111"/>
<clipPath id="lc"><circle cx="293.3" cy="427.3" r="18.6"/></clipPath>
<clipPath id="lr"><rect x="270" y="400" width="38.5" height="41"/></clipPath>
<g clip-path="url(#lc)"><g clip-path="url(#lr)" fill="none" stroke="#efefef" stroke-width="5.3"><circle cx="301.4" cy="436.7" r="9.3"/><circle cx="301.4" cy="436.7" r="17"/><circle cx="301.4" cy="436.7" r="24.6"/><circle cx="301.4" cy="436.7" r="32"/></g></g>
<circle cx="301.4" cy="436.7" r="3.4" fill="#efefef"/>
<path d="M306.5,412.5 A18.6,18.6 0 0 1 283,443" fill="none" stroke="#efefef" stroke-width="1.4"/>
<path d="M279,461.6 A13,12.5 0 0 0 305,461.6 M292,461.6 V470.5 M279,485.1 A13,13.5 0 0 0 305,485.1" fill="none" stroke="#efefef" stroke-width="2.8"/>
<rect x="318.6" y="476.5" width="13.6" height="19.8" rx="1.8" fill="none" stroke="#efefef" stroke-width="1.4"/>
<text transform="translate(328.6,486.4) rotate(-90)" text-anchor="middle" font-size="9.5" fill="#efefef">R</text>
<circle cx="320.2" cy="522.5" r="13.3" fill="none" stroke="#efefef" stroke-width="1.5"/>
<path d="M317,512 L314.5,522 L319,520 L317,533 M322,517 V528 M326,516 V529 M322,522.5 H330" fill="none" stroke="#efefef" stroke-width="1.4"/>
<ellipse cx="261.3" cy="521" rx="12.6" ry="13.2" fill="#eaeaea"/>
<rect x="254.3" y="503" width="14" height="37" rx="7" fill="#eaeaea"/>
<rect x="256.5" y="505.5" width="9.2" height="12.9" rx="1.5" fill="#8a8a8a"/>
<text transform="translate(264.8,529.3) rotate(-90)" text-anchor="middle" font-size="10.5" font-weight="bold" fill="#8a8a8a" textLength="11.5" lengthAdjust="spacingAndGlyphs">WI</text>
<text transform="translate(264.2,512) rotate(-90)" text-anchor="middle" font-size="8" font-weight="bold" fill="#eaeaea" textLength="8" lengthAdjust="spacingAndGlyphs">FI</text>
<rect x="417.8" y="416.4" width="9" height="5.5" fill="#e6e6e6"/><rect x="420.0" y="416.4" width="4.6" height="5.5" fill="#111"/>
<rect x="417.8" y="432.8" width="9" height="5.5" fill="#e6e6e6"/><rect x="420.0" y="432.8" width="4.6" height="5.5" fill="#111"/>
<rect x="417.8" y="475.2" width="9" height="5.5" fill="#e6e6e6"/><rect x="420.0" y="475.2" width="4.6" height="5.5" fill="#111"/>
<rect x="417.8" y="490.8" width="9" height="5.5" fill="#e6e6e6"/><rect x="420.0" y="490.8" width="4.6" height="5.5" fill="#111"/>
<rect x="417.8" y="508.2" width="9" height="5.5" fill="#e6e6e6"/><rect x="420.0" y="508.2" width="4.6" height="5.5" fill="#111"/>
<rect x="417.8" y="527.0" width="9" height="5.5" fill="#e6e6e6"/><rect x="420.0" y="527.0" width="4.6" height="5.5" fill="#111"/>
<rect x="416.5" y="452" width="11.5" height="6.5" fill="#efe6d6"/><rect x="419" y="452" width="6.5" height="6.5" fill="#d6c7a6"/>
<rect x="476.8" y="395.7" width="5.5" height="10" fill="#e6e6e6"/><rect x="476.8" y="397.9" width="5.5" height="5.6" fill="#111"/>
<rect x="498.9" y="395.7" width="5.5" height="10" fill="#e6e6e6"/><rect x="498.9" y="397.9" width="5.5" height="5.6" fill="#111"/>
<rect x="477.8" y="437.5" width="5.5" height="10" fill="#e6e6e6"/><rect x="477.8" y="439.7" width="5.5" height="5.6" fill="#111"/>
<rect x="463" y="391" width="4" height="3" fill="#ddd"/><rect x="463" y="408.5" width="4" height="3" fill="#ddd"/>
<rect x="515.5" y="390" width="5" height="14.5" fill="#e6ddc8"/>
<rect x="441.5" y="441.5" width="5" height="3.5" fill="#d8d8d8"/><rect x="462" y="432.3" width="5" height="3.5" fill="#d8d8d8"/><rect x="462" y="450" width="5" height="3.5" fill="#d8d8d8"/>
<rect x="448.2" y="429.8" width="12" height="25.5" fill="#2b2b2b" stroke="#222" stroke-width="0.6"/>
<rect x="518.8" y="436.9" width="4.5" height="2.2" fill="#f0f0f0"/><rect x="571.3" y="436.9" width="4.5" height="2.2" fill="#f0f0f0"/><rect x="532.0" y="475.6" width="2.2" height="4.5" fill="#f0f0f0"/><rect x="518.8" y="441.5" width="4.5" height="2.2" fill="#f0f0f0"/><rect x="571.3" y="441.5" width="4.5" height="2.2" fill="#f0f0f0"/><rect x="536.7" y="475.6" width="2.2" height="4.5" fill="#f0f0f0"/><rect x="518.8" y="446.1" width="4.5" height="2.2" fill="#f0f0f0"/><rect x="571.3" y="446.1" width="4.5" height="2.2" fill="#f0f0f0"/><rect x="541.4" y="475.6" width="2.2" height="4.5" fill="#f0f0f0"/><rect x="518.8" y="450.7" width="4.5" height="2.2" fill="#f0f0f0"/><rect x="571.3" y="450.7" width="4.5" height="2.2" fill="#f0f0f0"/><rect x="546.1" y="475.6" width="2.2" height="4.5" fill="#f0f0f0"/><rect x="518.8" y="455.3" width="4.5" height="2.2" fill="#f0f0f0"/><rect x="571.3" y="455.3" width="4.5" height="2.2" fill="#f0f0f0"/><rect x="550.8" y="475.6" width="2.2" height="4.5" fill="#f0f0f0"/><rect x="518.8" y="459.9" width="4.5" height="2.2" fill="#f0f0f0"/><rect x="571.3" y="459.9" width="4.5" height="2.2" fill="#f0f0f0"/><rect x="555.5" y="475.6" width="2.2" height="4.5" fill="#f0f0f0"/><rect x="518.8" y="464.5" width="4.5" height="2.2" fill="#f0f0f0"/><rect x="571.3" y="464.5" width="4.5" height="2.2" fill="#f0f0f0"/><rect x="560.2" y="475.6" width="2.2" height="4.5" fill="#f0f0f0"/>
<rect x="523.5" y="433.5" width="47.5" height="41.7" fill="#2c2c2c" stroke="#141414" stroke-width="1.2"/>
<circle cx="533" cy="466.2" r="2.2" fill="#1b1b1b"/><circle cx="521.3" cy="478.6" r="2.1" fill="#f4f4f4"/>
<rect x="568.5" y="480.7" width="5.2" height="5.2" fill="#0e0e0e"/>
<rect x="445.9" y="477.2" width="13.8" height="42" fill="#e4e4e4"/>
<rect x="444.7" y="482.7" width="16.3" height="30.1" fill="#f5aa38"/>
<rect x="444.7" y="507.8" width="16.3" height="5" fill="#ef8a3a"/>
<rect x="477.8" y="489" width="21.3" height="42.7" fill="#e4e4e4"/>
<rect x="476" y="495.3" width="25.1" height="30.1" fill="#f5aa38"/>
<rect x="476" y="519.1" width="25.1" height="6.3" fill="#ef8a3a"/>
<rect x="444" y="551" width="15.3" height="7" fill="#efe6d6"/><rect x="447.5" y="551" width="8.3" height="7" fill="#d2c3a3"/>
<rect x="479.6" y="551" width="15.4" height="7" fill="#efe6d6"/><rect x="483.1" y="551" width="8.3" height="7" fill="#d2c3a3"/>
<rect x="525.3" y="521.6" width="4.7" height="28.1" fill="#c9c9c9"/><rect x="532.3" y="521.6" width="9.2" height="28.1" fill="#c9c9c9"/>
<rect x="572.2" y="511.1" width="7.5" height="7" fill="#cfcfcf"/><rect x="581" y="511.1" width="4" height="7" fill="#cfcfcf"/>
<rect x="572.2" y="531.3" width="7.5" height="7" fill="#cfcfcf"/><rect x="581" y="531.3" width="4" height="7" fill="#cfcfcf"/>
<rect x="572.2" y="553.2" width="7.5" height="7" fill="#cfcfcf"/><rect x="581" y="553.2" width="4" height="7" fill="#cfcfcf"/>
<rect x="542.4" y="504" width="28.9" height="59.8" fill="#2b2b2b" stroke="#1e1e1e" stroke-width="0.8"/>
<text transform="translate(597,546) rotate(-90)" text-anchor="middle" font-size="11.5" font-weight="bold" fill="#fff" textLength="44" lengthAdjust="spacingAndGlyphs">&lt;- G11</text>
<rect x="598" y="447" width="5.5" height="33" fill="#e2e2e2"/><rect x="594" y="453.6" width="13.2" height="19.9" fill="#161616"/>
<circle cx="644.2" cy="437.8" r="6.3" fill="#3a3a3a" stroke="#e4e4e4" stroke-width="3"/>
<circle cx="644.2" cy="509.6" r="6.3" fill="#3a3a3a" stroke="#e4e4e4" stroke-width="3"/>
<rect x="618.3" y="443.2" width="54.8" height="61" fill="#e3e3e3"/>
<rect x="621.5" y="446.5" width="41" height="54.5" fill="#d3d3d3"/>
<rect x="664" y="445" width="7.5" height="57" fill="#dcdcdc"/>
<path d="M639.8,458.4 H665.5 M639.8,490.3 H665.5 M619.7,459 V490" stroke="#333" stroke-width="2"/>
<path d="M652.5,458.4 A4.7,4.7 0 0 0 661.9,458.4 Z M652.5,490.3 A4.7,4.7 0 0 1 661.9,490.3 Z" fill="#333"/>
<rect x="617" y="457.5" width="6" height="2.2" fill="#333"/><rect x="617" y="489" width="6" height="2.2" fill="#333"/>
<rect x="612.3" y="543" width="47.3" height="13.5" fill="#e2e2e2"/>
<rect x="618.4" y="536" width="35.1" height="26.7" fill="#d2d2d2"/>
<circle cx="636" cy="548.8" r="8.5" fill="#1e1e1e"/>
<text transform="translate(639.2,523) rotate(180)" text-anchor="middle" font-size="12.5" font-weight="bold" fill="#fff" textLength="27" lengthAdjust="spacingAndGlyphs">RST</text>
<circle cx="164.5" cy="358.5" r="12.8" fill="#fff" stroke="#e8e8e8" stroke-width="0.8"/>
<circle cx="647.7" cy="358" r="12.8" fill="#fff" stroke="#e8e8e8" stroke-width="0.8"/>
<circle cx="163.5" cy="589.5" r="12.8" fill="#fff" stroke="#e8e8e8" stroke-width="0.8"/>
<circle cx="647.9" cy="590.3" r="12.8" fill="#fff" stroke="#e8e8e8" stroke-width="0.8"/>
<rect x="537.3" y="349.3" width="17.6" height="18" fill="#7cc47c"/>
<rect x="537.5" y="579.3" width="17.5" height="18" fill="#d48a8a"/>
<use href="#pg" x="189.81" y="358.5"/><use href="#pr" x="189.81" y="588.3"/><use href="#pg" x="213.54" y="358.5"/><use href="#pr" x="213.54" y="588.3"/><use href="#pg" x="237.28" y="358.5"/><use href="#pr" x="237.28" y="588.3"/><use href="#pg" x="261.01" y="358.5"/><use href="#pr" x="261.01" y="588.3"/><use href="#pg" x="284.75" y="358.5"/><use href="#pr" x="284.75" y="588.3"/><use href="#pg" x="308.48" y="358.5"/><use href="#pr" x="308.48" y="588.3"/><use href="#pb" x="332.22" y="358.5"/><use href="#pr" x="332.22" y="588.3"/><use href="#pg" x="355.95" y="358.5"/><use href="#pr" x="355.95" y="588.3"/><use href="#pg" x="379.69" y="358.5"/><use href="#pr" x="379.69" y="588.3"/><use href="#pg" x="403.42" y="358.5"/><use href="#pr" x="403.42" y="588.3"/><use href="#pg" x="427.16" y="358.5"/><use href="#pr" x="427.16" y="588.3"/><use href="#pg" x="450.89" y="358.5"/><use href="#pr" x="450.89" y="588.3"/><use href="#pg" x="474.63" y="358.5"/><use href="#pr" x="474.63" y="588.3"/><use href="#pg" x="498.36" y="358.5"/><use href="#pg" x="498.36" y="588.3"/><use href="#pb" x="522.10" y="358.5"/><use href="#pr" x="522.10" y="588.3"/><use href="#pg" x="545.84" y="358.5"/><use href="#pr" x="545.84" y="588.3"/><use href="#pg" x="569.57" y="358.5"/><use href="#pr" x="569.57" y="588.3"/><use href="#pg" x="593.30" y="358.5"/><use href="#pr" x="593.30" y="588.3"/><use href="#pg" x="617.04" y="358.5"/><use href="#pr" x="617.04" y="588.3"/>
<g font-size="10.7" font-weight="bold" fill="#fff"><text x="192.81" y="375.6" text-anchor="middle" textLength="24.3" lengthAdjust="spacingAndGlyphs">GND</text><text x="216.54" y="375.6" text-anchor="middle" textLength="24.3" lengthAdjust="spacingAndGlyphs">G23</text><text x="240.28" y="375.6" text-anchor="middle" textLength="24.3" lengthAdjust="spacingAndGlyphs">G22</text><text x="264.01" y="375.6" text-anchor="middle" textLength="24.3" lengthAdjust="spacingAndGlyphs">TXD</text><text x="287.75" y="375.6" text-anchor="middle" textLength="24.3" lengthAdjust="spacingAndGlyphs">RXD</text><text x="311.48" y="375.6" text-anchor="middle" textLength="24.3" lengthAdjust="spacingAndGlyphs">G21</text><text x="335.22" y="375.6" text-anchor="middle" textLength="24.3" lengthAdjust="spacingAndGlyphs">GND</text><text x="358.95" y="375.6" text-anchor="middle" textLength="24.3" lengthAdjust="spacingAndGlyphs">G19</text><text x="382.69" y="375.6" text-anchor="middle" textLength="24.3" lengthAdjust="spacingAndGlyphs">G18</text><text x="406.42" y="375.6" text-anchor="middle" textLength="17.8" lengthAdjust="spacingAndGlyphs">G5</text><text x="430.16" y="375.6" text-anchor="middle" textLength="24.3" lengthAdjust="spacingAndGlyphs">G17</text><text x="453.89" y="375.6" text-anchor="middle" textLength="24.3" lengthAdjust="spacingAndGlyphs">G16</text><text x="477.63" y="375.6" text-anchor="middle" textLength="17.8" lengthAdjust="spacingAndGlyphs">G4</text><text x="501.36" y="375.6" text-anchor="middle" textLength="17.8" lengthAdjust="spacingAndGlyphs">G0</text><text x="525.10" y="375.6" text-anchor="middle" textLength="17.8" lengthAdjust="spacingAndGlyphs">G2</text><text x="548.84" y="375.6" text-anchor="middle" textLength="24.3" lengthAdjust="spacingAndGlyphs">G15</text><text x="572.57" y="375.6" text-anchor="middle" textLength="24.3" lengthAdjust="spacingAndGlyphs">SD1</text><text x="596.30" y="375.6" text-anchor="middle" textLength="24.3" lengthAdjust="spacingAndGlyphs">SD0</text><text x="620.04" y="375.6" text-anchor="middle" textLength="24.3" lengthAdjust="spacingAndGlyphs">CLK</text><text font-size="11" transform="translate(186.81,570.3) rotate(180)" text-anchor="middle" textLength="24" lengthAdjust="spacingAndGlyphs">3V3</text><text font-size="11" transform="translate(210.54,570.3) rotate(180)" text-anchor="middle" textLength="17.5" lengthAdjust="spacingAndGlyphs">EN</text><text font-size="11" transform="translate(234.28,570.3) rotate(180)" text-anchor="middle" textLength="17.5" lengthAdjust="spacingAndGlyphs">SP</text><text font-size="11" transform="translate(258.01,570.3) rotate(180)" text-anchor="middle" textLength="17.5" lengthAdjust="spacingAndGlyphs">SN</text><text font-size="11" transform="translate(281.75,570.3) rotate(180)" text-anchor="middle" textLength="24" lengthAdjust="spacingAndGlyphs">G34</text><text font-size="11" transform="translate(305.48,570.3) rotate(180)" text-anchor="middle" textLength="24" lengthAdjust="spacingAndGlyphs">G35</text><text font-size="11" transform="translate(329.22,570.3) rotate(180)" text-anchor="middle" textLength="24" lengthAdjust="spacingAndGlyphs">G32</text><text font-size="11" transform="translate(352.95,570.3) rotate(180)" text-anchor="middle" textLength="24" lengthAdjust="spacingAndGlyphs">G33</text><text font-size="11" transform="translate(376.69,570.3) rotate(180)" text-anchor="middle" textLength="24" lengthAdjust="spacingAndGlyphs">G25</text><text font-size="11" transform="translate(400.42,570.3) rotate(180)" text-anchor="middle" textLength="24" lengthAdjust="spacingAndGlyphs">G26</text><text font-size="11" transform="translate(424.16,570.3) rotate(180)" text-anchor="middle" textLength="24" lengthAdjust="spacingAndGlyphs">G27</text><text font-size="11" transform="translate(447.89,570.3) rotate(180)" text-anchor="middle" textLength="24" lengthAdjust="spacingAndGlyphs">G14</text><text font-size="11" transform="translate(471.63,570.3) rotate(180)" text-anchor="middle" textLength="24" lengthAdjust="spacingAndGlyphs">G12</text><text font-size="11" transform="translate(495.36,570.3) rotate(180)" text-anchor="middle" textLength="24" lengthAdjust="spacingAndGlyphs">GND</text><text font-size="11" transform="translate(519.10,570.3) rotate(180)" text-anchor="middle" textLength="24" lengthAdjust="spacingAndGlyphs">G13</text><text font-size="11" transform="translate(542.84,570.3) rotate(180)" text-anchor="middle" textLength="24" lengthAdjust="spacingAndGlyphs">SD2</text><text font-size="11" transform="translate(566.57,570.3) rotate(180)" text-anchor="middle" textLength="24" lengthAdjust="spacingAndGlyphs">SD3</text><text font-size="11" transform="translate(590.30,570.3) rotate(180)" text-anchor="middle" textLength="24" lengthAdjust="spacingAndGlyphs">GND</text><text font-size="11" transform="translate(614.04,570.3) rotate(180)" text-anchor="middle" textLength="17.5" lengthAdjust="spacingAndGlyphs">V5</text></g>
<rect x="335" y="380.5" width="129.5" height="38.7" fill="#000" fill-opacity="0.10"/><rect x="334" y="379.5" width="129" height="38.2" fill="#000" fill-opacity="0.10"/>
<rect x="333" y="378.5" width="128.5" height="37.7" fill="#fff" stroke="#767676" stroke-width="1"/>
<text x="339.8" y="395.5" font-size="14.5" font-weight="bold" fill="#363636" textLength="33.8" lengthAdjust="spacingAndGlyphs">GND</text>
<text x="373.6" y="395.5" font-size="14" fill="#4a4a4a" textLength="51" lengthAdjust="spacingAndGlyphs">:Ground</text>
<text x="430" y="395.5" font-size="14" fill="#8a8a8a" textLength="24.6" lengthAdjust="spacingAndGlyphs">(32)</text>
<text x="339.8" y="411.7" font-size="11" fill="#4a4a4a" textLength="91" lengthAdjust="spacingAndGlyphs">ESP32-38PinWide</text>
<rect x="522.7" y="376.8" width="170.3" height="58.2" fill="#000" fill-opacity="0.10"/><rect x="521.7" y="375.8" width="169.8" height="57.7" fill="#000" fill-opacity="0.10"/>
<rect x="520.7" y="374.8" width="169.3" height="57.2" fill="#fff" stroke="#767676" stroke-width="1"/>
<text x="526.7" y="392.2" font-size="14.5" font-weight="bold" fill="#363636" textLength="45.8" lengthAdjust="spacingAndGlyphs">GPIO2</text>
<text x="572.5" y="392.2" font-size="14" fill="#4a4a4a" textLength="109" lengthAdjust="spacingAndGlyphs">:ADC12, TOUCH2</text>
<text x="526.7" y="412" font-size="14" fill="#8a8a8a" textLength="25" lengthAdjust="spacingAndGlyphs">(24)</text>
<text x="526.7" y="427.5" font-size="11" fill="#4a4a4a" textLength="91" lengthAdjust="spacingAndGlyphs">ESP32-38PinWide</text>
</svg>
</body></html>
